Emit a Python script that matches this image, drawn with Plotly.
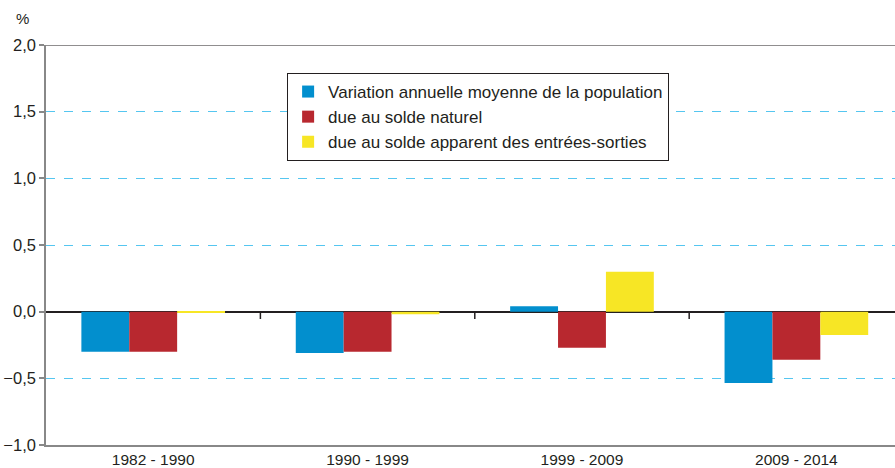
import plotly.graph_objects as go

categories = ["1982 - 1990", "1990 - 1999", "1999 - 2009", "2009 - 2014"]
series_names = [
    "Variation annuelle moyenne de la population",
    "due au solde naturel",
    "due au solde apparent des entrées-sorties",
]
variation_totale = [-0.30, -0.31, 0.04, -0.535]
solde_naturel = [-0.30, -0.30, -0.27, -0.36]
solde_migratoire = [-0.005, -0.02, 0.30, -0.175]
y_ticks = [-1.0, -0.5, 0.0, 0.5, 1.0, 1.5, 2.0]

colors = ["#028fce", "#b8282f", "#f7e625"]
font = "Liberation Sans, Arial, sans-serif"

fig = go.Figure()
for name, vals, col in zip(series_names, [variation_totale, solde_naturel, solde_migratoire], colors):
    fig.add_trace(go.Bar(x=categories, y=vals, name=name, marker=dict(color=col, line=dict(width=0))))

fig.update_layout(
    width=895, height=468,
    margin=dict(l=45.5, r=0, t=45, b=23),
    paper_bgcolor="white", plot_bgcolor="white",
    barmode="group", bargap=0.33, bargroupgap=0,
    separators=", ",
    font=dict(family=font, size=16, color="#231f20"),
    showlegend=True,
    legend=dict(
        x=0.284, y=0.93, xanchor="left", yanchor="top",
        bordercolor="#231f20", borderwidth=1, bgcolor="white",
        font=dict(size=17, family=font, color="#231f20"),
        itemwidth=30, tracegroupgap=0,
    ),
    xaxis=dict(
        type="category", range=[-0.5, 3.46], automargin=False,
        showline=True, linecolor="#888888", linewidth=1.5,
        ticks="", showgrid=False, zeroline=False,
        tickfont=dict(size=15.5), ticklabelstandoff=0,
    ),
    yaxis=dict(
        range=[-1.0, 2.0], tickvals=y_ticks, tickformat=".1f", automargin=False,
        showline=True, linecolor="#888888", linewidth=1.5,
        ticks="outside", ticklen=5, tickcolor="#888888", tickwidth=1.5,
        showgrid=True, gridcolor="#55c6f0", griddash="dash", gridwidth=1.3,
        zeroline=True, zerolinecolor="#231f20", zerolinewidth=1.5,
        tickfont=dict(size=16.5),
    ),
    annotations=[dict(text="%", xref="paper", yref="paper", x=-0.028, y=1.04,
                      xanchor="center", yanchor="bottom", showarrow=False,
                      font=dict(size=15, family=font, color="#231f20"))],
    shapes=[
        dict(type="line", xref="paper", yref="y", x0=0, x1=1, y0=2.0, y1=2.0,
             line=dict(color="#231f20", width=1.2), layer="above"),
    ] + [
        dict(type="line", xref="x", yref="y", x0=i + 0.5, x1=i + 0.5, y0=0, y1=-0.055,
             line=dict(color="#231f20", width=1.5))
        for i in range(len(categories) - 1)
    ],
)

fig.write_html("out.html", config={"displayModeBar": False},
               post_script="document.body.style.margin='0';document.body.style.overflow='hidden';")
